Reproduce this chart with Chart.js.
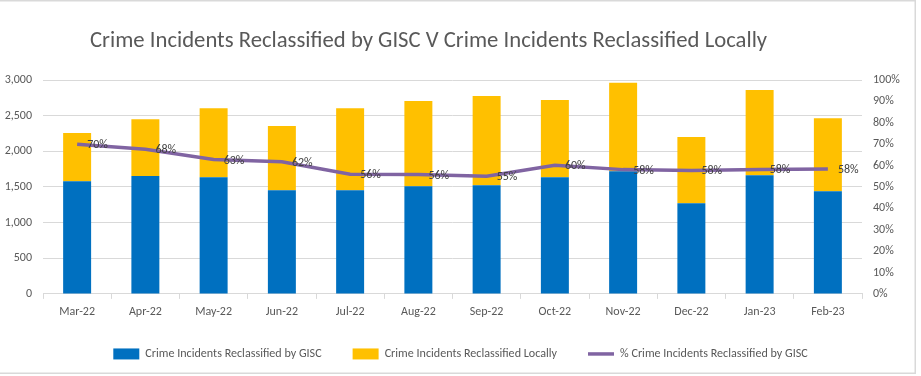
<!DOCTYPE html>
<html>
<head>
<meta charset="utf-8">
<script src="https://cdn.jsdelivr.net/npm/chart.js@4/dist/chart.umd.min.js"></script>
<style>
    body { margin: 0; background: #fff; }
    #wrap { width: 921px; height: 376px; position: relative; }
</style>
</head>
<body>
<div id="wrap"><canvas id="crimeChart"></canvas></div>
<script>
// Chart values
var months = ['Mar-22', 'Apr-22', 'May-22', 'Jun-22', 'Jul-22', 'Aug-22', 'Sep-22', 'Oct-22', 'Nov-22', 'Dec-22', 'Jan-23', 'Feb-23'];
var reclassifiedByGisc = [1580, 1655, 1635, 1455, 1455, 1510, 1525, 1635, 1720, 1270, 1665, 1440];
var reclassifiedLocally = [675, 795, 970, 900, 1150, 1195, 1250, 1085, 1240, 930, 1195, 1025];
var pctByGisc = [70.0, 67.6, 62.8, 61.8, 55.9, 55.8, 55.0, 60.1, 58.1, 57.7, 58.2, 58.4];
var titleText = 'Crime Incidents Reclassified by GISC V Crime Incidents Reclassified Locally';

var FONT = 'Carlito, "Open Sans", sans-serif';
Chart.defaults.font.family = FONT;
Chart.defaults.font.size = 12;
Chart.defaults.color = '#595959';

// white background, thin grey frame and the title
var framePlugin = {
    id: 'frame',
    beforeDraw: function(chart) {
        var ctx = chart.ctx;
        ctx.save();
        ctx.fillStyle = '#ffffff';
        ctx.fillRect(0, 0, chart.width, chart.height);
        ctx.strokeStyle = '#d9d9d9';
        ctx.lineWidth = 1.5;
        ctx.beginPath();
        ctx.moveTo(0, 0.75);
        ctx.lineTo(915.25, 0.75);
        ctx.lineTo(915.25, 373.25);
        ctx.lineTo(0, 373.25);
        ctx.stroke();
        ctx.font = '22.7px ' + FONT;
        ctx.fillStyle = '#595959';
        ctx.textBaseline = 'alphabetic';
        ctx.textAlign = 'left';
        ctx.fillText(titleText, 90, 47);
        ctx.restore();
    }
};

// percentage labels to the right of each line point
var lineLabelPlugin = {
    id: 'lineLabels',
    afterDatasetsDraw: function(chart) {
        var ctx = chart.ctx;
        var meta = chart.getDatasetMeta(2);
        ctx.save();
        ctx.font = '12px ' + FONT;
        ctx.fillStyle = '#404040';
        ctx.textAlign = 'left';
        ctx.textBaseline = 'middle';
        meta.data.forEach(function(pt, i) {
            ctx.fillText(Math.round(pctByGisc[i]) + '%', pt.x + 10, pt.y + 1);
        });
        ctx.restore();
    }
};

new Chart(document.getElementById('crimeChart'), {
    type: 'bar',
    data: {
        labels: months,
        datasets: [{
            label: 'Crime Incidents Reclassified by GISC',
            data: reclassifiedByGisc,
            backgroundColor: '#0070C0',
            pointStyle: 'rect',
            barPercentage: 0.41,
            categoryPercentage: 1,
            yAxisID: 'y',
            order: 1
        }, {
            label: 'Crime Incidents Reclassified Locally',
            data: reclassifiedLocally,
            backgroundColor: '#FFC000',
            pointStyle: 'rect',
            barPercentage: 0.41,
            categoryPercentage: 1,
            yAxisID: 'y',
            order: 1
        }, {
            type: 'line',
            label: '% Crime Incidents Reclassified by GISC',
            data: pctByGisc,
            borderColor: '#8064A2',
            backgroundColor: '#8064A2',
            borderWidth: 3.5,
            pointRadius: 0,
            pointStyle: 'line',
            tension: 0,
            yAxisID: 'y1',
            order: 0
        }]
    },
    options: {
        responsive: true,
        maintainAspectRatio: false,
        animation: false,
        layout: {
            padding: { top: 80, left: 0, right: 0, bottom: 6 }
        },
        plugins: {
            tooltip: { enabled: false },
            title: { display: false },
            legend: {
                position: 'bottom',
                labels: {
                    usePointStyle: true,
                    pointStyleWidth: 26,
                    boxHeight: 11,
                    padding: 31,
                    color: '#595959',
                    font: { size: 12.1 },
                    sort: function(a, b) { return a.datasetIndex - b.datasetIndex; }
                }
            }
        },
        scales: {
            x: {
                stacked: true,
                grid: {
                    drawOnChartArea: false,
                    drawTicks: true,
                    tickLength: 5,
                    color: '#d9d9d9'
                },
                border: { color: '#d9d9d9' },
                ticks: { padding: 6, maxRotation: 0, autoSkip: false },
                afterFit: function(scale) { scale.height = 23; }
            },
            y: {
                stacked: true,
                position: 'left',
                min: 0,
                max: 3000,
                grid: { color: '#d9d9d9', drawTicks: false },
                border: { display: false },
                ticks: {
                    stepSize: 500,
                    padding: 11,
                    callback: function(v) { return v.toLocaleString('en-US'); }
                },
                afterFit: function(scale) { scale.width = 43; }
            },
            y1: {
                position: 'right',
                min: 0,
                max: 100,
                grid: { display: false, drawTicks: false },
                border: { display: false },
                ticks: {
                    stepSize: 10,
                    padding: 11,
                    callback: function(v) { return v + '%'; }
                },
                afterFit: function(scale) { scale.width = 59; }
            }
        }
    },
    plugins: [framePlugin, lineLabelPlugin]
});
</script>
</body>
</html>
